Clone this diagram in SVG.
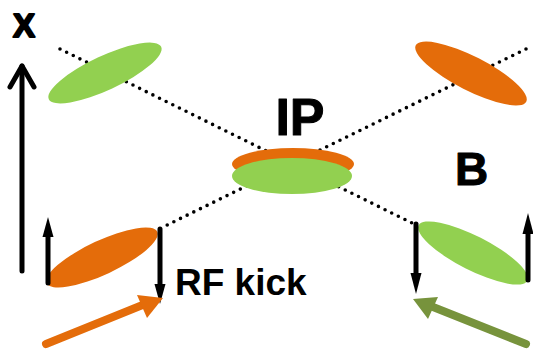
<svg xmlns="http://www.w3.org/2000/svg" width="533" height="350" viewBox="0 0 533 350">
<defs>
<style>
.dot{fill:none;stroke:#000;stroke-width:3.6;stroke-linecap:round;stroke-dasharray:0 7.4}
.green{fill:#92D050}
.orange{fill:#E46C0A}
.ln{stroke:#000;stroke-width:5;stroke-linecap:round;fill:none}
.lbl{font-family:"Liberation Sans",Arial,sans-serif;font-weight:bold;fill:#000}
</style>
</defs>
<rect width="533" height="350" fill="#fff"/>
<g id="connectors">
<line class="dot" x1="60" y1="49" x2="412" y2="223"/>
<line class="dot" x1="526" y1="49" x2="163" y2="227"/>
</g>
<g id="bunch-top-left"><ellipse class="green" cx="105" cy="73" rx="62" ry="17" transform="rotate(-25 105 73)"/></g>
<g id="bunch-top-right"><ellipse class="orange" cx="471" cy="73.5" rx="62" ry="17" transform="rotate(27 471 73.5)"/></g>
<g id="ip">
<ellipse class="orange" cx="293" cy="164" rx="61" ry="16"/>
<ellipse class="green" cx="292" cy="176" rx="60" ry="18"/>
<text class="lbl" x="300" y="135" font-size="52" text-anchor="middle" stroke="#000" stroke-width="1" stroke-linejoin="round">IP</text>
</g>
<g id="bunch-bottom-left">
<ellipse class="orange" cx="102" cy="257.5" rx="61" ry="17" transform="rotate(-25 102 257.5)"/>
<line class="ln" x1="48" y1="283" x2="48" y2="232"/>
<polygon points="48,217 42.5,237 53.5,237"/>
<line class="ln" x1="160" y1="229" x2="160" y2="288"/>
<polygon points="160,304 154.5,284 165.5,284"/>
</g>
<g id="bunch-bottom-right">
<ellipse class="green" cx="473" cy="253" rx="61" ry="17" transform="rotate(27 473 253)"/>
<line class="ln" x1="416" y1="224" x2="416" y2="278"/>
<polygon points="416,294 410.5,273 421.5,273"/>
<line class="ln" x1="528" y1="280" x2="528" y2="228"/>
<polygon points="528,213 522.5,234 533.5,234"/>
</g>
<g id="axis-x">
<line class="ln" x1="22" y1="271" x2="22" y2="66"/>
<polyline class="ln" points="10,87 22,66 34,87" stroke-linejoin="round" stroke-width="5.5"/>
<text class="lbl" x="24" y="37" font-size="33" text-anchor="middle" stroke="#000" stroke-width="2" stroke-linejoin="round">X</text>
</g>
<g id="label-B"><text class="lbl" x="455" y="185" font-size="46" stroke="#000" stroke-width="1" stroke-linejoin="round">B</text></g>
<g id="label-rf"><text class="lbl" x="175" y="295" font-size="37">RF kick</text></g>
<g id="arrow-orange">
<line x1="46" y1="344" x2="145" y2="304" stroke="#E46C0A" stroke-width="8" stroke-linecap="round"/>
<polygon points="163,298 137,295 147,318" fill="#E46C0A"/>
</g>
<g id="arrow-olive">
<line x1="526" y1="344" x2="428" y2="305" stroke="#77933C" stroke-width="8" stroke-linecap="round"/>
<polygon points="413,299 438,297 428,319" fill="#77933C"/>
</g>
</svg>
